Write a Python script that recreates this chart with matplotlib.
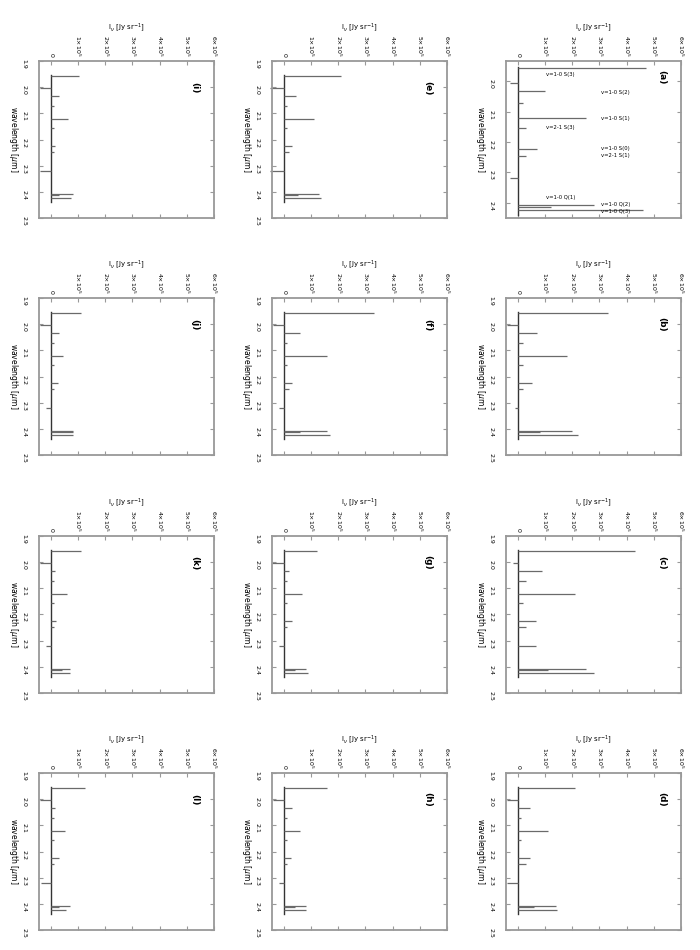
import numpy as np
import matplotlib
matplotlib.use("Agg")
import matplotlib.pyplot as plt

# panel letters; figure is the landscape original turned 90 deg clockwise
panels = ["a", "b", "c", "d", "e", "f", "g", "h", "i", "j", "k", "l"]

# wavelengths of the plotted features (um); negative = telluric residuals
wl = [1.9576, 2.0050, 2.0338, 2.0735, 2.1218, 2.1542, 2.2235, 2.2477,
      2.3200, 2.4066, 2.4134, 2.4237]

# peak intensity per panel, in units of 1e5 Jy sr^-1, same order as wl
flux = {
    "a": [4.7, -0.3, 1.0, 0.2, 2.5, 0.3, 0.7, 0.3, -0.3, 2.8, 1.2, 4.6],
    "b": [3.3, -0.4, 0.7, 0.2, 1.8, 0.2, 0.5, 0.2, -0.1, 2.0, 0.8, 2.2],
    "c": [4.3, -0.2, 0.9, 0.3, 2.1, 0.2, 0.65, 0.3, 0.65, 2.5, 1.1, 2.8],
    "d": [2.1, -0.4, 0.45, 0.1, 1.1, 0.1, 0.45, 0.3, -0.4, 1.4, 0.6, 1.45],
    "e": [2.1, -0.5, 0.45, 0.1, 1.1, 0.1, 0.3, 0.2, -0.5, 1.3, 0.5, 1.35],
    "f": [3.3, -0.4, 0.6, 0.1, 1.6, 0.1, 0.3, 0.2, -0.2, 1.6, 0.6, 1.7],
    "g": [1.2, -0.45, 0.2, 0.1, 0.65, 0.1, 0.3, 0.1, -0.2, 0.8, 0.4, 0.9],
    "h": [1.6, -0.4, 0.3, 0.1, 0.6, 0.1, 0.25, 0.1, -0.2, 0.8, 0.4, 0.8],
    "i": [1.05, -0.4, 0.3, 0.1, 0.63, 0.1, 0.15, 0.1, -0.4, 0.8, 0.3, 0.75],
    "j": [1.1, -0.4, 0.3, 0.1, 0.45, 0.1, 0.26, 0.1, -0.2, 0.8, 0.8, 0.8],
    "k": [1.1, -0.4, 0.15, 0.1, 0.6, 0.1, 0.2, 0.1, -0.2, 0.7, 0.4, 0.7],
    "l": [1.27, -0.4, 0.15, 0.1, 0.5, 0.1, 0.3, 0.1, -0.35, 0.7, 0.3, 0.55],
}

# intensity ticks (top axis)
i_ticks = [0, 1, 2, 3, 4, 5, 6]
i_labels = ["0"] + [r"$%d{\times}10^{5}$" % v for v in i_ticks[1:]]

# wavelength ticks (left axis)
wl_ticks = [1.9, 2.0, 2.1, 2.2, 2.3, 2.4, 2.5]
wl_ticks_a = [2.0, 2.1, 2.2, 2.3, 2.4]

# line identifications in panel (a): text, intensity pos, wavelength pos
ids = ["v=1-0 S(3)", "v=1-0 S(2)", "v=1-0 S(1)", "v=2-1 S(3)",
       "v=1-0 S(0)", "v=2-1 S(1)", "v=1-0 Q(1)", "v=1-0 Q(2)", "v=1-0 Q(3)"]
ids_x = [1.05, 3.07, 3.07, 1.05, 3.07, 3.07, 1.05, 3.07, 3.07]
ids_y = [1.980, 2.039, 2.124, 2.154, 2.223, 2.246, 2.384, 2.407, 2.427]

grey = "#999999"
col_left = [39, 272, 506]
row_top = [61, 298, 536, 773]
W, H = 700.0, 950.0

fig = plt.figure(figsize=(7, 9.5), dpi=100)

for k, p in enumerate(panels):
    col = 2 - k // 4
    row = k % 4
    ax = fig.add_axes([col_left[col] / W, 1 - (row_top[row] + 157) / H,
                       175 / W, 157 / H])

    # spectrum: baseline plus emission spikes
    ax.plot([0, 0], [1.955, 2.44], color="#333333", lw=1.0)
    ax.hlines(wl, 0, flux[p], color="#6a6a6a", lw=0.9, clip_on=False)

    ax.set_xlim(-0.44, 6)
    if p == "a":
        ax.set_ylim(2.45, 1.934)
        ax.set_yticks(wl_ticks_a)
        ax.set_yticklabels(["%.1f" % t for t in wl_ticks_a])
        for t, x, y in zip(ids, ids_x, ids_y):
            ax.text(x, y, t, fontsize=3.8, ha="left", va="center")
    else:
        ax.set_ylim(2.5, 1.9)
        ax.set_yticks(wl_ticks)
        ax.set_yticklabels(["%.1f" % t for t in wl_ticks])

    ax.set_xticks(i_ticks)
    ax.set_xticklabels(i_labels, rotation=-90)
    for lab in ax.get_yticklabels():
        lab.set_rotation(-90)

    ax.xaxis.tick_top()
    ax.xaxis.set_label_position("top")
    ax.tick_params(top=True, bottom=True, left=True, right=True,
                   labeltop=True, labelbottom=False, direction="in",
                   length=3, width=0.8, color=grey, labelsize=4.5, pad=3)
    ax.tick_params(axis="y", pad=9)
    for s in ax.spines.values():
        s.set_color(grey)
        s.set_linewidth(1.3)

    ax.set_xlabel(r"I$_\nu$ [Jy sr$^{-1}$]", fontsize=5, labelpad=4)
    ax.set_ylabel(r"wavelength [$\mu$m]", fontsize=5.5, rotation=-90,
                  ha="center", va="center")
    ax.yaxis.set_label_coords(-0.145, 0.5)

    ty = 0.9 if p == "a" else 0.83
    ax.text(0.89, ty, "(%s)" % p, transform=ax.transAxes, rotation=-90,
            fontsize=6.5, fontweight="bold", ha="center", va="center")

fig.savefig("out.png", dpi=100)
